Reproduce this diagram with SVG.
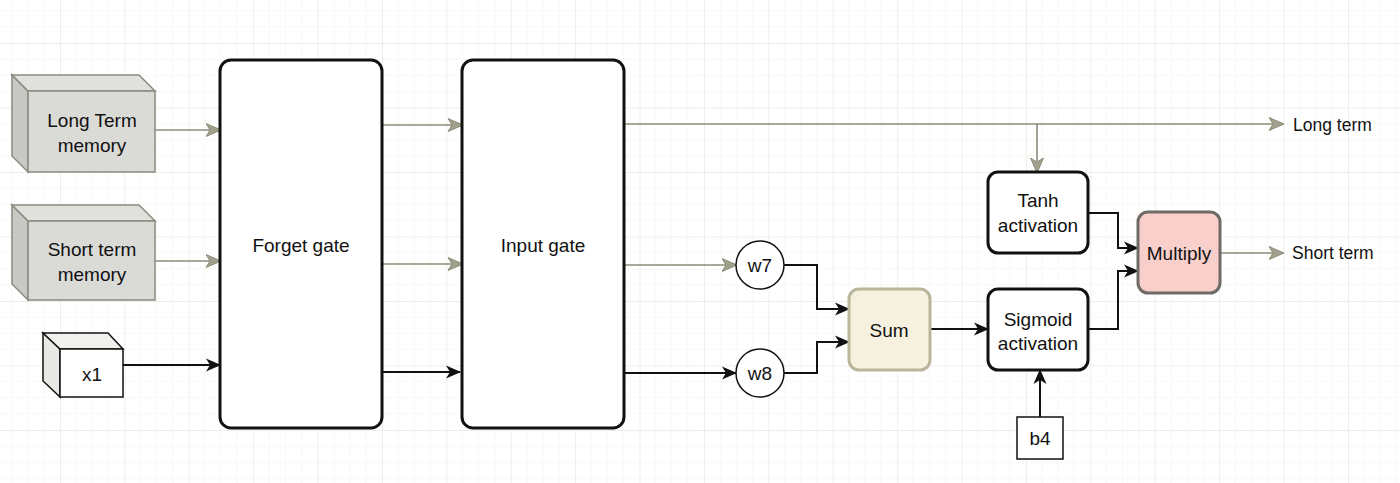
<svg xmlns="http://www.w3.org/2000/svg" width="1400" height="483" viewBox="0 0 1400 483">
<style>
.t{font-family:"Liberation Sans",Arial,sans-serif;font-size:19px;fill:#111;text-anchor:middle;dominant-baseline:central}
.tl{font-family:"Liberation Sans",Arial,sans-serif;font-size:17.5px;fill:#111;dominant-baseline:central}
.box{fill:#fff;stroke:#111;stroke-width:3}
.g{fill:none;stroke:#8c8c7a;stroke-width:1.6}
.k{fill:none;stroke:#111;stroke-width:2}
.cubeF{fill:#dadad7;stroke:#8a8a80;stroke-width:1.5}
.cubeS{fill:#c8c8c4;stroke:#8a8a80;stroke-width:1.5}
.cubeT{fill:#e0e0dc;stroke:#8a8a80;stroke-width:1.5}
</style>
<defs>
<pattern id="grid" patternUnits="userSpaceOnUse" x="60" y="43" width="64.4" height="64.5">
<path d="M16.1 0V64.5M32.2 0V64.5M48.3 0V64.5M0 16.1H64.4M0 32.2H64.4M0 48.4H64.4" stroke="#f8f8f5" stroke-width="1" fill="none"/>
<path d="M0.5 0V64.5M0 0.5H64.4" stroke="#eeeee8" stroke-width="1" fill="none"/>
</pattern>
<marker id="ak" markerUnits="userSpaceOnUse" markerWidth="18" markerHeight="16" refX="14" refY="8" orient="auto">
<path d="M0,1.5 L15,8 L0,14.5 L4,8 z" fill="#111"/>
</marker>
<marker id="ag" markerUnits="userSpaceOnUse" markerWidth="18" markerHeight="16" refX="14" refY="8" orient="auto">
<path d="M0,1.5 L15,8 L0,14.5 L4,8 z" fill="#a0a08c" stroke="#8c8c7a" stroke-width="1"/>
</marker>
</defs>
<rect width="1400" height="483" fill="#fff"/>
<rect width="1400" height="483" fill="url(#grid)"/>

<g id="connectors">
<path class="g" d="M155 130H220" marker-end="url(#ag)"/>
<path class="g" d="M155 261H220" marker-end="url(#ag)"/>
<path class="k" d="M123 365H220" marker-end="url(#ak)"/>
<path class="g" d="M382 125H462" marker-end="url(#ag)"/>
<path class="g" d="M382 264H462" marker-end="url(#ag)"/>
<path class="k" d="M382 372H460" marker-end="url(#ak)"/>
<path class="g" d="M624 124H1283" marker-end="url(#ag)"/>
<path class="g" d="M1037 124V172" marker-end="url(#ag)"/>
<path class="g" d="M624 265H736" marker-end="url(#ag)"/>
<path class="k" d="M624 373H736" marker-end="url(#ak)"/>
<path class="k" d="M784 265H817V309H849" marker-end="url(#ak)"/>
<path class="k" d="M784 373H817V342H849" marker-end="url(#ak)"/>
<path class="k" d="M930 329H988" marker-end="url(#ak)"/>
<path class="k" d="M1040 417V370" marker-end="url(#ak)"/>
<path class="k" d="M1088 213H1118V248H1138" marker-end="url(#ak)"/>
<path class="k" d="M1088 329H1118V271H1138" marker-end="url(#ak)"/>
<path class="g" d="M1220 253H1283" marker-end="url(#ag)"/>
</g>

<g id="long-term-memory">
<path class="cubeS" d="M12 75L28 91V172L12 156Z"/>
<path class="cubeT" d="M12 75H139L155 91H28Z"/>
<rect class="cubeF" x="28" y="91" width="127" height="81"/>
<text class="t" x="92" y="120">Long Term</text>
<text class="t" x="92" y="145">memory</text>
</g>

<g id="short-term-memory">
<path class="cubeS" d="M12 205L28 221V300L12 284Z"/>
<path class="cubeT" d="M12 205H139L155 221H28Z"/>
<rect class="cubeF" x="28" y="221" width="127" height="79"/>
<text class="t" x="92" y="249">Short term</text>
<text class="t" x="92" y="274">memory</text>
</g>

<g id="x1">
<path d="M43 333L60 349V397L43 381Z" fill="#e8e8e4" stroke="#111" stroke-width="1.5"/>
<path d="M43 333H108L123 349H60Z" fill="#f0f0ec" stroke="#111" stroke-width="1.5"/>
<rect x="60" y="349" width="63" height="48" fill="#fff" stroke="#111" stroke-width="1.5"/>
<text class="t" x="92" y="374">x1</text>
</g>

<g id="forget-gate">
<rect class="box" x="220" y="60" width="162" height="368" rx="11"/>
<text class="t" x="301" y="245">Forget gate</text>
</g>

<g id="input-gate">
<rect class="box" x="462" y="60" width="162" height="368" rx="11"/>
<text class="t" x="543" y="245">Input gate</text>
</g>

<g id="w7">
<circle cx="760" cy="265" r="24" fill="#fff" stroke="#111" stroke-width="1.5"/>
<text class="t" x="760" y="265">w7</text>
</g>

<g id="w8">
<circle cx="760" cy="373" r="24" fill="#fff" stroke="#111" stroke-width="1.5"/>
<text class="t" x="760" y="373">w8</text>
</g>

<g id="sum">
<rect x="849" y="289" width="81" height="81" rx="10" fill="#f6f1de" stroke="#b9b69c" stroke-width="3"/>
<text class="t" x="889" y="330">Sum</text>
</g>

<g id="tanh">
<rect class="box" x="988" y="172" width="100" height="81" rx="10"/>
<text class="t" x="1038" y="200">Tanh</text>
<text class="t" x="1038" y="225">activation</text>
</g>

<g id="sigmoid">
<rect class="box" x="988" y="289" width="100" height="81" rx="10"/>
<text class="t" x="1038" y="319">Sigmoid</text>
<text class="t" x="1038" y="343">activation</text>
</g>

<g id="b4">
<rect x="1017" y="417" width="46" height="42" fill="#fff" stroke="#111" stroke-width="1.5"/>
<text class="t" x="1040" y="438">b4</text>
</g>

<g id="multiply">
<rect x="1138" y="212" width="82" height="81" rx="10" fill="#f8cfcb" stroke="#6e6a66" stroke-width="3"/>
<text class="t" x="1179" y="253">Multiply</text>
</g>

<g id="long-term-out">
<text class="tl" x="1293" y="125">Long term</text>
</g>
<g id="short-term-out">
<text class="tl" x="1292" y="253">Short term</text>
</g>
</svg>
